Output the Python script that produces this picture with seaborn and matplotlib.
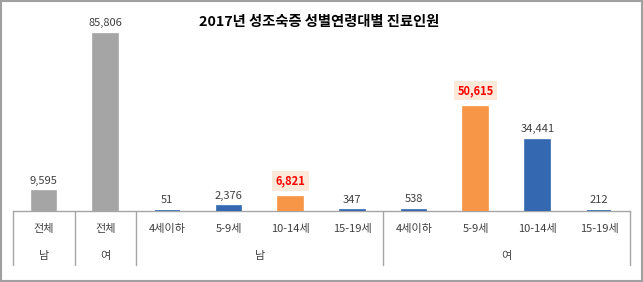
import pandas as pd
import seaborn as sns
import matplotlib
matplotlib.use('Agg')
import matplotlib.pyplot as plt
from matplotlib.patches import Rectangle

# 데이터
sexes = ['남', '여', '남', '남', '남', '남', '여', '여', '여', '여']
ages = ['전체', '전체', '4세이하', '5-9세', '10-14세', '15-19세',
        '4세이하', '5-9세', '10-14세', '15-19세']
values = [9595, 85806, 51, 2376, 6821, 347, 538, 50615, 34441, 212]
kinds = ['total', 'total', 'normal', 'normal', 'peak', 'normal',
         'normal', 'peak', 'normal', 'normal']

kind_colors = {'total': '#A5A5A5', 'normal': '#3469B1', 'peak': '#F79646'}

df = pd.DataFrame({'sex': sexes, 'age': ages, 'value': values, 'kind': kinds})
df['key'] = [f'{i}' for i in range(len(df))]

sns.set_style('white')
plt.rcParams['font.family'] = ['Noto Sans CJK KR', 'DejaVu Sans']

fig = plt.figure(figsize=(6.43, 2.82), dpi=100)
ax = fig.add_axes([13 / 643, 71 / 282, 617 / 643, 191 / 282])

sns.barplot(data=df, x='key', y='value', hue='key',
            palette=[kind_colors[k] for k in kinds],
            width=0.4, legend=False, ax=ax, saturation=1)

# 작은 막대도 보이도록 테두리 추가
for bar, k in zip(ax.patches, kinds):
    bar.set_edgecolor(kind_colors[k])
    bar.set_linewidth(1.2)

ax.set_xlim(-0.5, len(df) - 0.5)
ax.set_ylim(0, 92600)
ax.set_xlabel('')
ax.set_ylabel('')
ax.set_xticks([])
ax.set_yticks([])
for s in ['top', 'left', 'right']:
    ax.spines[s].set_visible(False)
ax.spines['bottom'].set_color('#A6A6A6')
ax.spines['bottom'].set_linewidth(1.0)
ax.spines['bottom'].set_zorder(0)

# 값 라벨
for i, row in df.iterrows():
    if row['kind'] == 'peak':
        ax.annotate(f"{row['value']:,}", (i, row['value']), xytext=(0, 7),
                    textcoords='offset points', ha='center', va='bottom',
                    fontsize=8, fontweight='bold', color='#FF0000',
                    bbox=dict(boxstyle='square,pad=0.3', fc='#FDE9D9', ec='none'))
    else:
        ax.annotate(f"{row['value']:,}", (i, row['value']), xytext=(0, 4),
                    textcoords='offset points', ha='center', va='bottom',
                    fontsize=8, color='#404040')

# 축 아래 라벨
tr = ax.get_xaxis_transform()
for i, row in df.iterrows():
    ax.text(i, -0.094, row['age'], transform=tr, ha='center', va='center',
            fontsize=8, color='#404040', clip_on=False)
ax.text(0, -0.236, '남', transform=tr, ha='center', va='center',
        fontsize=8, color='#404040', clip_on=False)
ax.text(1, -0.236, '여', transform=tr, ha='center', va='center',
        fontsize=8, color='#404040', clip_on=False)
ax.text(3.5, -0.236, '남', transform=tr, ha='center', va='center',
        fontsize=8, color='#404040', clip_on=False)
ax.text(7.5, -0.236, '여', transform=tr, ha='center', va='center',
        fontsize=8, color='#404040', clip_on=False)

# 구분선
for xb in [-0.5, 0.5, 1.5, 5.5, 9.5]:
    ax.plot([xb, xb], [0, -0.283], transform=tr, color='#A6A6A6',
            linewidth=1.0, clip_on=False)

fig.text(0.497, 1 - 22 / 282, '2017년 성조숙증 성별연령대별 진료인원',
         ha='center', va='center', fontsize=10.3, fontweight='bold', color='#000000')

fig.patches.append(Rectangle((0.001, 0.002), 0.997, 0.995, transform=fig.transFigure,
                             fill=False, edgecolor='#A0A0A0', linewidth=1.5))

fig.savefig('out.png', dpi=100)
